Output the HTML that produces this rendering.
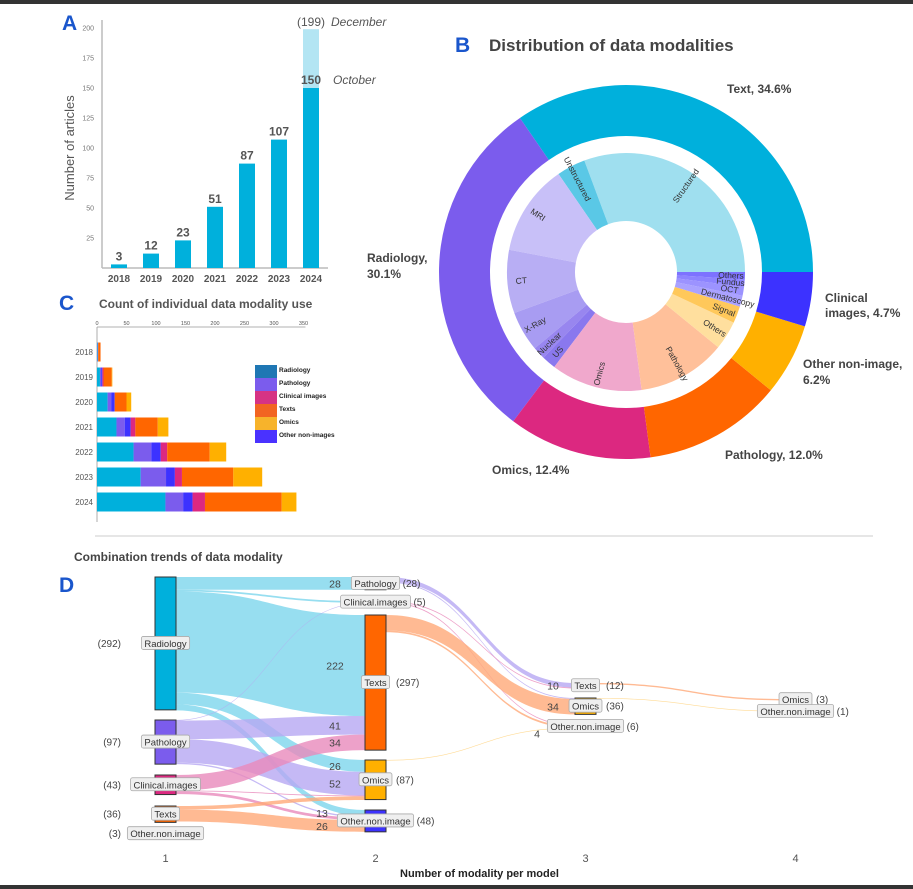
<!DOCTYPE html>
<html><head><meta charset="utf-8">
<style>
html,body{margin:0;padding:0;background:#fff;}
svg{display:block;font-family:"Liberation Sans",Arial,sans-serif;}
</style></head>
<body>
<svg id="root" width="913" height="889" viewBox="0 0 913 889" xmlns="http://www.w3.org/2000/svg">
<rect x="0" y="0" width="913" height="4" fill="#333"/>
<rect x="0" y="885" width="913" height="4" fill="#333"/>
<g id="pa"></g>
<g id="pb"></g>
<g id="pc"></g>
<line x1="95" y1="536" x2="873" y2="536" stroke="#ddd" stroke-width="1.5"/>
<g id="pd"></g>
</svg>
<script>
// ---------- Panel A data ----------
const aYears = ["2018","2019","2020","2021","2022","2023","2024"];
const aValues = [3, 12, 23, 51, 87, 107, 150];
const aExtraValue = 199;
const aTicks = [25, 50, 75, 100, 125, 150, 175, 200];

// ---------- Panel B data ----------
const bOuterLabels = ["Text","Radiology","Omics","Pathology","Other non-image","Clinical images"];
const bOuterPct = [34.6, 30.1, 12.4, 12.0, 6.2, 4.7];
const bInnerLabels = ["Structured","Unstructured","MRI","CT","X-Ray","Nuclear","US","Omics","Pathology","Others","Signal","Dermatoscopy","OCT","Fundus","Others"];
const bInnerPct = [30.7, 3.9, 12.4, 8.6, 5.5, 1.7, 1.9, 12.4, 12.0, 3.9, 2.3, 1.5, 1.2, 1.0, 1.0];

// ---------- Panel C data ----------
const cYears = ["2018","2019","2020","2021","2022","2023","2024"];
const cModalities = ["Radiology","Pathology","Other non-images","Clinical images","Texts","Omics"];
const cRadiology = [1, 5, 18, 33, 62, 74, 116];
const cPathology = [1, 2, 6, 14, 30, 43, 30];
const cOther = [0, 2, 6, 10, 16, 15, 16];
const cClinical = [0, 2, 0, 8, 11, 12, 21];
const cTexts = [4, 14, 20, 38, 72, 87, 130];
const cOmics = [0, 1, 8, 18, 28, 49, 25];
const cTicks = [0, 50, 100, 150, 200, 250, 300, 350];
const cLegend = ["Radiology","Pathology","Clinical images","Texts","Omics","Other non-images"];

// ---------- Panel D data ----------
const dNodeNames = ["Radiology","Pathology","Clinical.images","Texts","Omics","Other.non.image"];
const dCol1 = [292, 97, 43, 36, 0, 3];
const dCol2 = [0, 28, 5, 297, 87, 48];
const dCol3 = [0, 0, 0, 12, 36, 6];
const dCol4 = [0, 0, 0, 0, 3, 1];
const dFlowCol = [1,1,1,1,1, 1,1,1,1, 1,1,1, 1,1, 2,2,2,2,2,2,2, 3,3];
const dFlowSrc = [0,0,0,0,0, 1,1,1,1, 2,2,2, 3,3, 1,1,2,2,3,3,4, 3,4];
const dFlowTgt = [1,2,3,4,5, 2,3,4,5, 3,4,5, 4,5, 3,4,3,5,4,5,5, 4,5];
const dFlowVal = [28,4,222,26,13, 1,41,52,3, 34,2,6, 8,26, 10,2,2,2,34,4,1, 3,1];
const dFlowShow = [1,0,1,1,1, 0,1,1,0, 1,0,0, 0,1, 1,0,0,0,1,1,0, 0,0];
</script>
<script>
const NS="http://www.w3.org/2000/svg";
function mk(parent,tag,attrs,txt){const e=document.createElementNS(NS,tag);for(const k in attrs)e.setAttribute(k,attrs[k]);if(txt!==undefined)e.textContent=txt;parent.appendChild(e);return e;}

// ================= PANEL A =================
(function(){
const g=document.getElementById('pa');
const base=268, k=1.2, x0=119, step=32, bw=16;
const yA=v=>base-v*k;
let t=mk(g,'text',{x:62,y:30,'font-size':21,'font-weight':'bold',fill:'#1a56cc'},'A');


let l=mk(g,'line',{x1:102,y1:20,x2:102,y2:base,stroke:'#bbb','stroke-width':1.5});


l=mk(g,'line',{x1:102,y1:base,x2:328,y2:base,stroke:'#bbb','stroke-width':1.5});


aTicks.forEach(v=>{
  const e=mk(g,'text',{x:94,y:yA(v)+2.5,'font-size':7,fill:'#777','text-anchor':'end'},String(v));
  
  
});
t=mk(g,'text',{x:0,y:0,'font-size':13,fill:'#555','text-anchor':'middle',transform:'translate(74,148) rotate(-90)'},'Number of articles');


const last=aValues.length-1, xl=x0+last*step;
let r=mk(g,'rect',{x:xl-bw/2,y:yA(aExtraValue),width:bw,height:(aExtraValue-aValues[last])*k,fill:'#b3e5f3'});


aValues.forEach((v,i)=>{
  const cx=x0+i*step;
  const b=mk(g,'rect',{x:cx-bw/2,y:yA(v),width:bw,height:v*k,fill:'#00b0dc'});
  
  
  const vl=mk(g,'text',{x:cx,y:yA(v)-4,'font-size':12,'font-weight':'bold',fill:'#555','text-anchor':'middle'},String(v));
  
  
  const xl2=mk(g,'text',{x:cx,y:282,'font-size':10,'font-weight':'bold',fill:'#555','text-anchor':'middle'},aYears[i]);
  
  
});
t=mk(g,'text',{x:xl,y:yA(aExtraValue)-3,'font-size':12,fill:'#555','text-anchor':'middle'},'('+aExtraValue+')');


t=mk(g,'text',{x:331,y:yA(aExtraValue)-3,'font-size':12,'font-style':'italic',fill:'#555'},'December');


t=mk(g,'text',{x:333,y:yA(aValues[last])-4,'font-size':12,'font-style':'italic',fill:'#555'},'October');


})();

// ================= PANEL B =================
(function(){
const g=document.getElementById('pb');
const cx=626, cy=272;
let t=mk(g,'text',{x:455,y:52,'font-size':21,'font-weight':'bold',fill:'#1a56cc'},'B');


t=mk(g,'text',{x:489,y:51,'font-size':17,'font-weight':'bold',fill:'#444'},'Distribution of data modalities');


function pt(r,a){const rad=a*Math.PI/180;return [cx+r*Math.cos(rad),cy-r*Math.sin(rad)];}
function arc(r0,r1,a0,a1){
  const p1=pt(r1,a0),p2=pt(r1,a1),p3=pt(r0,a1),p4=pt(r0,a0);
  const lg=(a1-a0)>180?1:0;
  return `M${p1[0]},${p1[1]} A${r1},${r1} 0 ${lg} 0 ${p2[0]},${p2[1]} L${p3[0]},${p3[1]} A${r0},${r0} 0 ${lg} 1 ${p4[0]},${p4[1]}Z`;
}
const oc=['#00b0dc','#7b5ced','#dc2880','#ff6600','#ffb000','#3c32ff'];
const ic=['#9fdfef','#5ac8e6','#c8c0f8','#b8aef4','#a89cf2','#9886ef','#8a78ee','#f0a8cc','#ffc09a','#ffdf9e','#ffc85a','#aaa2ff','#9c93ff','#8d84ff','#7d72ff'];
const oTot=bOuterPct.reduce((a,b)=>a+b,0);
let a=0;
bOuterPct.forEach((p,i)=>{
  const d=p/oTot*360;
  const s=mk(g,'path',{d:arc(136,187,a,a+d),fill:oc[i]});
  
  
  a+=d;
});
const iTot=bInnerPct.reduce((x,y)=>x+y,0);
a=0;
bInnerPct.forEach((p,i)=>{
  const d=p/iTot*360;
  const s=mk(g,'path',{d:arc(51,119,a,a+d),fill:ic[i]});
  
  
  const m=a+d/2;
  const rr=(d<3)?114:105;
  const q=pt(rr,m);
  let rot=-m; if(m>90&&m<270) rot=180-m;
  const lt=mk(g,'text',{x:q[0],y:q[1]+3,'font-size':8.5,fill:'#333','text-anchor':'middle',transform:`rotate(${rot} ${q[0]} ${q[1]})`},bInnerLabels[i]);
  
  
  a+=d;
});
const lbls=[[727,93,'Text, '+bOuterPct[0]+'%'],[367,262,'Radiology,'],[367,278,bOuterPct[1]+'%'],[825,302,'Clinical'],[825,317,'images, '+bOuterPct[5]+'%'],[803,368,'Other non-image,'],[803,384,bOuterPct[4]+'%'],[725,459,'Pathology, '+bOuterPct[3].toFixed(1)+'%'],[492,474,'Omics, '+bOuterPct[2]+'%']];
lbls.forEach(L=>{
  const e=mk(g,'text',{x:L[0],y:L[1],'font-size':12,'font-weight':'bold',fill:'#444'},L[2]);
  
  
});
})();

// ================= PANEL C =================
(function(){
const g=document.getElementById('pc');
const xC=v=>97+v*0.59;
let t=mk(g,'text',{x:59,y:310,'font-size':21,'font-weight':'bold',fill:'#1a56cc'},'C');


t=mk(g,'text',{x:99,y:308,'font-size':12,'font-weight':'bold',fill:'#555'},'Count of individual data modality use');


let l=mk(g,'line',{x1:97,y1:327,x2:xC(350)+2,y2:327,stroke:'#999','stroke-width':0.8});


l=mk(g,'line',{x1:97,y1:327,x2:97,y2:522,stroke:'#999','stroke-width':0.8});


cTicks.forEach(v=>{
  const e=mk(g,'text',{x:xC(v),y:325,'font-size':5.5,fill:'#555','text-anchor':'middle'},String(v));
  
  
});
const series=[cRadiology,cPathology,cOther,cClinical,cTexts,cOmics];
const cols=['#00b0dc','#7b5ced','#3c32ff','#dc2880','#ff6600','#ffb000'];
cYears.forEach((y,i)=>{
  const cy=352+i*25;
  const e=mk(g,'text',{x:93,y:cy+3,'font-size':8,fill:'#555','text-anchor':'end'},y);
  
  
  let acc=0;
  series.forEach((s,j)=>{
    const v=s[i]; if(!v) return;
    const r=mk(g,'rect',{x:xC(acc),y:cy-9.5,width:v*0.59,height:19,fill:cols[j]});
    
    
    acc+=v;
  });
});
const lc=['#1f77b4','#7b5ced','#d63384','#f26522','#f7b32b','#4a32ff'];
cLegend.forEach((n,i)=>{
  const y=365+i*13;
  const r=mk(g,'rect',{x:255,y:y,width:22,height:13,fill:lc[i]});
  
  
  const e=mk(g,'text',{x:279,y:y+7,'font-size':6.5,'font-weight':'bold',fill:'#222'},n);
  
  
});
})();

// ================= PANEL D =================
(function(){
const g=document.getElementById('pd');
const k=0.455;
const colX=[155,365,575,785], nw=21;
let t=mk(g,'text',{x:74,y:561,'font-size':12,'font-weight':'bold',fill:'#444'},'Combination trends of data modality');


t=mk(g,'text',{x:59,y:592,'font-size':21,'font-weight':'bold',fill:'#1a56cc'},'D');


const cols=[dCol1,dCol2,dCol3,dCol4];
const tops=[[577,720,775,806,833,833],[0,577,601,615,760,810],[0,0,0,683,698,725],[0,0,0,0,699,711]];
const nodeC=['#00b0dc','#7b5ced','#dc2880','#ff6600','#ffb000','#3c32ff'];
const flowC=['#7dd6ec','#b6a8f3','#e889bb','#ffa978','#ffd27a','#9c98ff'];
const outOff=cols.map(c=>c.map(()=>0));
const inOff=cols.map(c=>c.map(()=>0));
const flowLayer=mk(g,'g',{});


const labelLayer=[];
dFlowVal.forEach((v,i)=>{
  const c=dFlowCol[i]-1, s=dFlowSrc[i], tg=dFlowTgt[i];
  const w=Math.max(v*k,0.6);
  const y0=tops[c][s]+outOff[c][s]; outOff[c][s]+=v*k;
  const y1=tops[c+1][tg]+inOff[c+1][tg]; inOff[c+1][tg]+=v*k;
  const x0=colX[c]+nw, x1=colX[c+1], mx=(x0+x1)/2;
  const d=`M${x0},${y0} C${mx},${y0} ${mx},${y1} ${x1},${y1} L${x1},${y1+w} C${mx},${y1+w} ${mx},${y0+w} ${x0},${y0+w}Z`;
  const p=mk(flowLayer,'path',{d:d,fill:flowC[s],'fill-opacity':0.8});
  
  
  if(dFlowShow[i]){
    let off = c===0 ? (tg===5?43:30) : 22;
    let ly = y1+w/2+4;
    if(c===1 && tg===5){ off=38; ly=y1+w+10; }
    labelLayer.push([x1-off, ly, String(v)]);
  }
});
cols.forEach((col,c)=>{
  col.forEach((v,n)=>{
    if(!v) return;
    const y=tops[c][n], h=v*k;
    if(h>2.5){
      const r=mk(g,'rect',{x:colX[c],y:y,width:nw,height:h,fill:nodeC[n],stroke:'#333','stroke-width':1});
      
      
    }
    const cyN=y+Math.max(h,1)/2;
    const cx=colX[c]+nw/2;
    const tx=mk(g,'text',{x:cx,y:cyN+3.5,'font-size':9.5,fill:'#333','text-anchor':'middle'},dNodeNames[n]);
    const tw=tx.getComputedTextLength ? tx.getComputedTextLength() : dNodeNames[n].length*5;
    const box=mk(g,'rect',{x:cx-tw/2-3,y:cyN-7,width:tw+6,height:13,rx:2,fill:'#efefef',stroke:'#aaa','stroke-width':0.8});
    
    
    g.appendChild(tx);
    
    
    let ct;
    if(c===0) ct=mk(g,'text',{x:121,y:cyN+3.5,'font-size':10,fill:'#444','text-anchor':'end'},'('+v+')');
    else ct=mk(g,'text',{x:Math.max(cx+tw/2+6,cx+nw/2+10),y:cyN+3.5,'font-size':10,fill:'#444'},'('+v+')');
    
    
  });
});
labelLayer.forEach(L=>{
  const lt=mk(g,'text',{x:L[0],y:L[1],'font-size':10.5,fill:'#444','text-anchor':'middle'},L[2]);
  
  
});
["1","2","3","4"].forEach((s,i)=>{
  const e=mk(g,'text',{x:colX[i]+nw/2,y:862,'font-size':11,fill:'#555','text-anchor':'middle'},s);
  
  
});
t=mk(g,'text',{x:400,y:877,'font-size':11,'font-weight':'bold',fill:'#222'},'Number of modality per model');


})();
</script>
</body></html>
